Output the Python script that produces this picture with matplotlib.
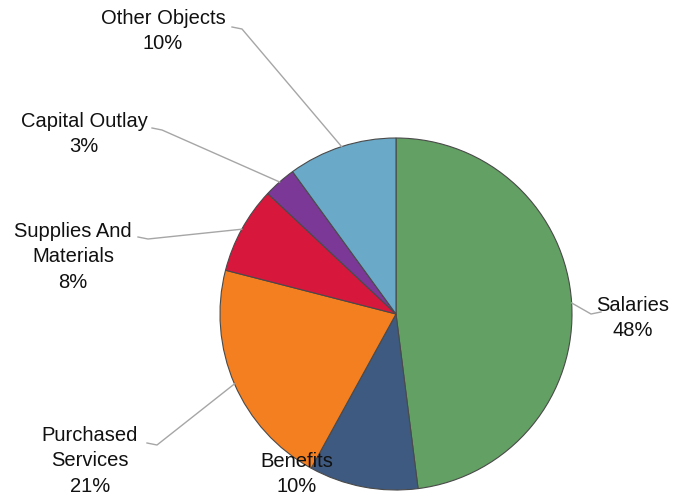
import numpy as np
import matplotlib.pyplot as plt

plt.rcParams['font.family'] = ['Liberation Sans', 'DejaVu Sans']

# slices, clockwise from 12 o'clock
categories = ['Salaries', 'Benefits', 'Purchased\nServices', 'Supplies And\nMaterials',
              'Capital Outlay', 'Other Objects']
shares = [48, 10, 21, 8, 3, 10]
colors = ['#63a063', '#3e5a80', '#f47f20', '#d8173c', '#7b3897', '#6aa9c8']

# label layout in pixel coords (x, y from top): text center, leader start, hook direction
label_pos = [(633, 318), (297, 474), (90, 461), (73, 257), (84, 134), (163, 31)]
leader_from = [(601, 312), None, (147, 443), (138, 237), (152, 128), (232, 27)]
hook = [-10, 0, 10, 10, 10, 10]

W, H = 679, 497
cx, cy, r = 396, 314, 176

fig = plt.figure(figsize=(W / 100, H / 100), dpi=100)
ax = fig.add_axes([0, 0, 1, 1])

wedges, _ = ax.pie(shares, colors=colors, startangle=90, counterclock=False,
                   center=(cx, H - cy), radius=r,
                   wedgeprops=dict(edgecolor='#4a4a4a', linewidth=0.8))

ax.set_xlim(0, W)
ax.set_ylim(0, H)
ax.set_aspect('equal')
ax.axis('off')

total = sum(shares)
angle = 90.0
for i, (name, v) in enumerate(zip(categories, shares)):
    mid = angle - 360.0 * v / total / 2
    angle -= 360.0 * v / total
    tx, ty = label_pos[i]
    ax.text(tx, H - ty, f'{name}\n{v}%', ha='center', va='center',
            fontsize=14.5, linespacing=1.45, color='#111111', zorder=5)
    if leader_from[i] is not None:
        lx, ly = leader_from[i]
        ex = cx + r * np.cos(np.radians(mid))
        ey = cy - r * np.sin(np.radians(mid))
        ax.plot([lx, lx + hook[i], ex], [H - ly, H - ly - 2, H - ey],
                color='#a6a6a6', lw=1, zorder=1)

fig.savefig('out.png', dpi=100, facecolor='white')
